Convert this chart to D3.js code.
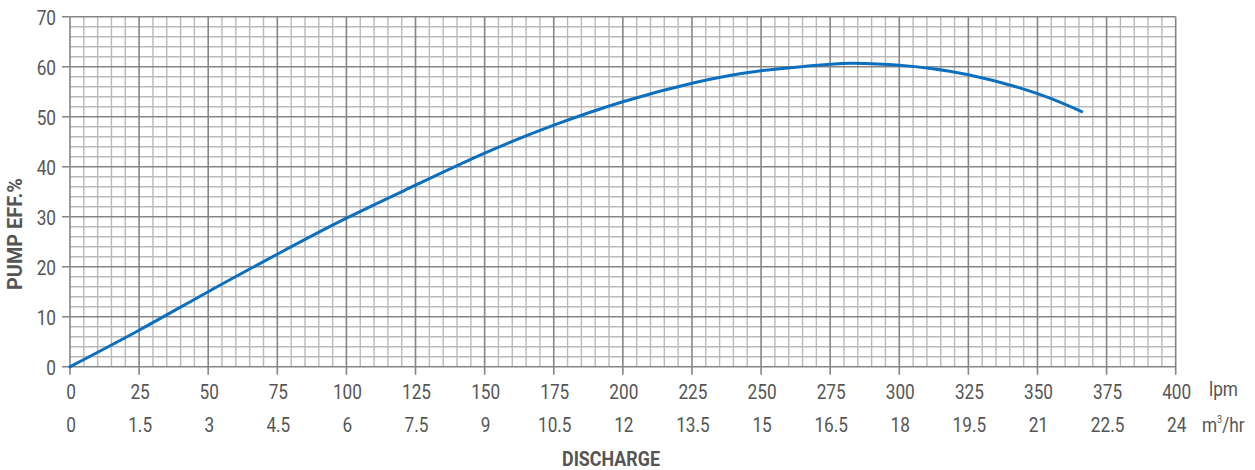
<!DOCTYPE html>
<html>
<head>
<meta charset="utf-8">
<script src="https://cdn.jsdelivr.net/npm/d3@7"></script>
<style>
  html, body { margin: 0; padding: 0; background: #fff; }
  svg { display: block; }
  text { font-family: Roboto, "Liberation Sans", sans-serif; }
</style>
</head>
<body>
<svg id="chart" width="1255" height="470"></svg>
<script>
// ---- data ----
const flowLpm = [0, 25, 50, 75, 100, 125, 150, 175, 200, 225, 250, 275, 283, 300, 325, 350, 366];
const efficiency = [0, 7.3, 15.0, 22.5, 29.7, 36.3, 42.7, 48.3, 53.0, 56.7, 59.2, 60.5, 60.7, 60.3, 58.4, 54.6, 51.0];
const lpmTicks = [0, 25, 50, 75, 100, 125, 150, 175, 200, 225, 250, 275, 300, 325, 350, 375, 400];
const m3hrTickLabels = ["0", "1.5", "3", "4.5", "6", "7.5", "9", "10.5", "12", "13.5", "15", "16.5", "18", "19.5", "21", "22.5", "24"];
const effTicks = [0, 10, 20, 30, 40, 50, 60, 70];
const yTitle = "PUMP EFF.%";
const xTitle = "DISCHARGE";
const unit1 = "lpm";
const unit2 = "m";
const unit2sup = "3";
const unit2tail = "/hr";

// ---- layout ----
const svg = d3.select("#chart");
const mLeft = 70, mRight = 1175.7, mTop = 16.7, mBottom = 366.7;
const x = d3.scaleLinear().domain([0, 400]).range([mLeft, mRight]);
const y = d3.scaleLinear().domain([0, 70]).range([mBottom, mTop]);

const minorColor = "#b9b9b9", majorColor = "#858585", textColor = "#555";
const SX = 0.82, FS = 21;

// minor grid
const g = svg.append("g");
g.selectAll("line.vmin").data(d3.range(0, 401, 5).filter(d => d % 25 !== 0))
  .join("line").attr("x1", d => x(d)).attr("x2", d => x(d)).attr("y1", mTop).attr("y2", mBottom)
  .attr("stroke", minorColor).attr("stroke-width", 1.4);
g.selectAll("line.hmin").data(d3.range(0, 71, 2).filter(d => d % 10 !== 0))
  .join("line").attr("y1", d => y(d)).attr("y2", d => y(d)).attr("x1", mLeft).attr("x2", mRight)
  .attr("stroke", minorColor).attr("stroke-width", 1.4);

// major grid
g.selectAll("line.vmaj").data(lpmTicks).join("line")
  .attr("x1", d => x(d)).attr("x2", d => x(d)).attr("y1", mTop).attr("y2", mBottom + 8)
  .attr("stroke", majorColor).attr("stroke-width", 1.6);
g.selectAll("line.hmaj").data(effTicks).join("line")
  .attr("y1", d => y(d)).attr("y2", d => y(d)).attr("x1", mLeft - 8).attr("x2", mRight)
  .attr("stroke", majorColor).attr("stroke-width", 1.6);

function label(parent, px, py, anchor) {
  const gg = parent.append("g").attr("transform", `translate(${px},${py}) scale(${SX},1)`);
  return gg.append("text").attr("text-anchor", anchor).attr("font-size", FS).attr("fill", textColor);
}

// y tick labels
const yl = svg.append("g");
effTicks.forEach(d => label(yl, mLeft - 14, y(d) + 8, "end").text(d));

// x tick labels row 1 (lpm) and row 2 (m3/hr)
const xl = svg.append("g");
lpmTicks.forEach((d, i) => {
  label(xl, x(d) + 1, 398.5, "middle").text(d);
  label(xl, x(d) + 1, 431.7, "middle").text(m3hrTickLabels[i]);
});

// units
label(svg, 1209, 396, "start").text(unit1);
const u2 = label(svg, 1202, 431.7, "start");
u2.append("tspan").text(unit2);
u2.append("tspan").attr("font-size", 11).attr("dy", -9).text(unit2sup);
u2.append("tspan").attr("dy", 9).text(unit2tail);

// titles (bold, condensed to match)
function title(str, px, py, rot, targetW) {
  const gg = svg.append("g");
  const t = gg.append("text").attr("text-anchor", "middle").attr("font-size", 20)
    .attr("font-weight", "bold").attr("fill", textColor).text(str);
  const w = t.node().getComputedTextLength();
  const s = w > 0 ? targetW / w : SX;
  gg.attr("transform", `translate(${px},${py}) rotate(${rot}) scale(${s},1)`);
}
title(xTitle, 611, 466, 0, 98);
title(yTitle, 22, 234, -90, 112);

// curve
const line = d3.line().x((d, i) => x(flowLpm[i])).y((d, i) => y(efficiency[i])).curve(d3.curveNatural);
svg.append("path").datum(efficiency).attr("d", line)
  .attr("fill", "none").attr("stroke", "#0b6fbf").attr("stroke-width", 3).attr("stroke-linecap", "round");
</script>
</body>
</html>
